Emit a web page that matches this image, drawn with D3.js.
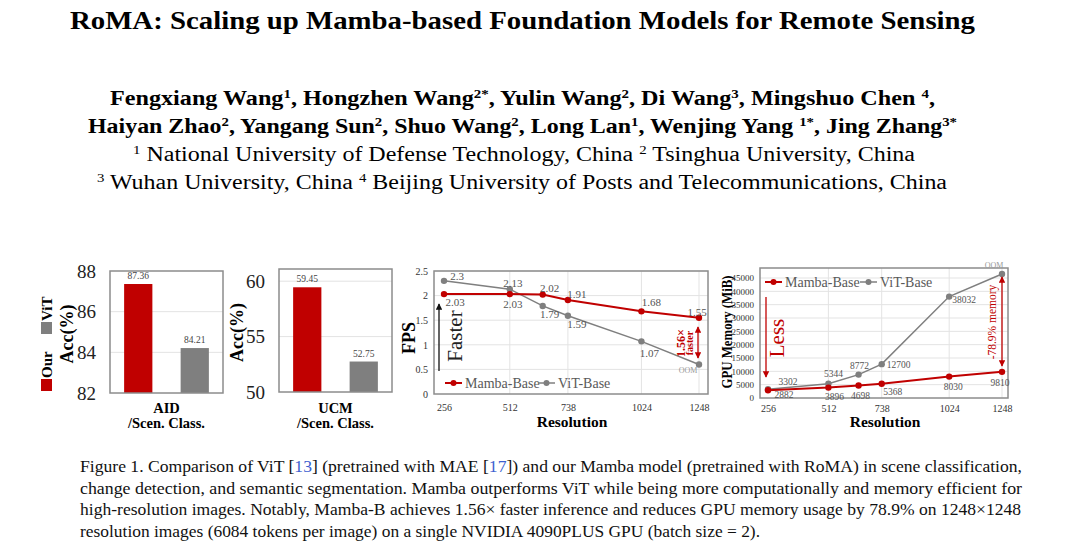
<!DOCTYPE html>
<html>
<head>
<meta charset="utf-8">
<script src="https://cdn.jsdelivr.net/npm/d3@7"></script>
<style>
  body { margin: 0; background: #fff; }
  svg text { font-family: "Liberation Serif", "Times New Roman", Times, serif; }
</style>
</head>
<body>
<div id="fig"></div>
<script>
// values
var accModels = ["Our", "ViT"];
var aidAcc = [87.36, 84.21];
var ucmAcc = [59.45, 52.75];

var resolutions = [256, 512, 640, 738, 1024, 1248];
var resTicks = [256, 512, 738, 1024, 1248];
var mambaFps = [2.03, 2.03, 2.02, 1.91, 1.68, 1.55];
var vitFps = [2.3, 2.13, 1.79, 1.59, 1.07, 0.6];        // last one is OOM
var vitFpsText = ["2.3", "2.13", "1.79", "1.59", "1.07", "OOM"];
var mambaMem = [2882, 3896, 4698, 5368, 8030, 9810];
var vitMem = [3302, 5344, 8772, 12700, 38032, 46500];   // last one is OOM
var vitMemText = ["3302", "5344", "8772", "12700", "38032", "OOM"];

var fpsTicks = [0, 0.5, 1, 1.5, 2, 2.5];
var memTicks = d3.range(0, 45001, 5000);

var RED = "#c00000", GRAY = "#7f7f7f", GRID = "#e3e3e3", FRAME = "#8c8c8c";

var svg = d3.select("#fig").append("svg")
  .attr("width", 1080)
  .attr("height", 551)
  .attr("font-family", "Liberation Serif, serif");

// ---------- header ----------
function richLine(parts, x0, x1, y, size, weight) {
  var t = svg.append("text")
    .attr("x", x0).attr("y", y)
    .attr("font-size", size)
    .attr("font-weight", weight)
    .attr("textLength", x1 - x0)
    .attr("lengthAdjust", "spacingAndGlyphs");
  parts.forEach(function(p) {
    var s = t.append("tspan").text(p[0]);
    if (p[1]) s.attr("font-size", size * 0.62).attr("baseline-shift", "super");
  });
  return t;
}

richLine([["RoMA: Scaling up Mamba-based Foundation Models for Remote Sensing", 0]], 70, 975, 29, 26, "bold");
richLine([["Fengxiang Wang", 0], ["1", 1], [", Hongzhen Wang", 0], ["2*", 1], [", Yulin Wang", 0], ["2", 1],
  [", Di Wang", 0], ["3", 1], [", Mingshuo Chen ", 0], ["4", 1], [",", 0]], 110, 935, 105, 20, "bold");
richLine([["Haiyan Zhao", 0], ["2", 1], [", Yangang Sun", 0], ["2", 1], [", Shuo Wang", 0], ["2", 1],
  [", Long Lan", 0], ["1", 1], [", Wenjing Yang ", 0], ["1*", 1], [", Jing Zhang", 0], ["3*", 1]], 88, 957, 133, 20, "bold");
richLine([["1", 1], [" National University of Defense Technology, China ", 0], ["2", 1],
  [" Tsinghua University, China", 0]], 133, 915, 161, 20, "normal");
richLine([["3", 1], [" Wuhan University, China ", 0], ["4", 1],
  [" Beijing University of Posts and Telecommunications, China", 0]], 97, 947, 189, 20, "normal");

// ---------- caption ----------
var captionLines = [
  [["Figure 1.  Comparison of ViT [", 0], ["13", 2], ["] (pretrained with MAE [", 0], ["17", 2],
   ["]) and our Mamba model (pretrained with RoMA) in scene classification,", 0]],
  [["change detection, and semantic segmentation.  Mamba outperforms ViT while being more computationally and memory efficient for", 0]],
  [["high-resolution images. Notably, Mamba-B achieves 1.56\u00d7 faster inference and reduces GPU memory usage by 78.9% on 1248\u00d71248", 0]],
  [["resolution images (6084 tokens per image) on a single NVIDIA 4090PLUS GPU (batch size = 2).", 0]]
];
var captionEnds = [1022, 1022, 1021, 760];
captionLines.forEach(function(parts, i) {
  var t = svg.append("text")
    .attr("x", 80).attr("y", 472 + i * 21.6)
    .attr("font-size", 16.5)
    .attr("fill", "#111")
    .attr("textLength", captionEnds[i] - 80)
    .attr("lengthAdjust", "spacingAndGlyphs");
  parts.forEach(function(p) {
    t.append("tspan").attr("fill", p[1] === 2 ? "#3d5fd0" : null).text(p[0]);
  });
});

// ---------- bar panels ----------
function barPanel(opt) {
  var x = d3.scaleBand().domain(accModels).range([opt.left, opt.right]).paddingInner(0.5).paddingOuter(0.25);
  var y = d3.scaleLinear().domain(opt.domain).range([opt.bottom, opt.top]);
  var g = svg.append("g");

  g.selectAll("line.grid").data(opt.grid).enter().append("line")
    .attr("x1", opt.left).attr("x2", opt.right)
    .attr("y1", d => y(d)).attr("y2", d => y(d))
    .attr("stroke", GRID).attr("stroke-width", 1);

  g.selectAll("rect.bar").data(opt.values).enter().append("rect")
    .attr("x", (d, i) => x(accModels[i]))
    .attr("y", d => y(d))
    .attr("width", x.bandwidth())
    .attr("height", d => opt.bottom - y(d))
    .attr("fill", (d, i) => i === 0 ? RED : GRAY);

  g.selectAll("text.val").data(opt.values).enter().append("text")
    .attr("x", (d, i) => x(accModels[i]) + x.bandwidth() / 2)
    .attr("y", d => y(d) - 5)
    .attr("text-anchor", "middle")
    .attr("font-size", 9.5)
    .attr("fill", "#444")
    .text(d => d.toFixed(2));

  g.append("rect")
    .attr("x", opt.left).attr("y", opt.top)
    .attr("width", opt.right - opt.left).attr("height", opt.bottom - opt.top)
    .attr("fill", "none").attr("stroke", FRAME).attr("stroke-width", 1.5);

  var yAxis = g.append("g")
    .attr("transform", `translate(${opt.left - 14},0)`)
    .call(d3.axisLeft(y).tickValues(opt.ticks).tickSize(0).tickPadding(0).tickFormat(d3.format("d")));
  yAxis.select(".domain").remove();
  yAxis.selectAll("text")
    .attr("font-family", "Liberation Serif")
    .attr("font-size", 19)
    .attr("fill", "#222");

  g.append("text")
    .attr("transform", `translate(${opt.labelX},${(opt.top + opt.bottom) / 2 + 2}) rotate(-90)`)
    .attr("text-anchor", "middle")
    .attr("font-size", 18).attr("font-weight", "bold")
    .text("Acc(%)");

  var cx = (opt.left + opt.right) / 2;
  g.append("text").attr("x", cx).attr("y", 413)
    .attr("text-anchor", "middle").attr("font-size", 14.5).attr("font-weight", "bold").text(opt.name);
  g.append("text").attr("x", cx).attr("y", 428)
    .attr("text-anchor", "middle").attr("font-size", 14.5).attr("font-weight", "bold").text("/Scen. Class.");
}

barPanel({ left: 110, right: 223, top: 271, bottom: 393, domain: [82, 88], ticks: [82, 84, 86, 88],
  grid: [84, 86], values: aidAcc, labelX: 73, name: "AID" });
barPanel({ left: 279, right: 392, top: 269, bottom: 392, domain: [50, 61.1], ticks: [50, 55, 60],
  grid: [55, 60], values: ucmAcc, labelX: 243, name: "UCM" });

// legend of the bar panels (rotated)
var leg = svg.append("g").attr("transform", "translate(53,391) rotate(-90)");
[["Our", RED], ["ViT", GRAY]].forEach(function(d, i) {
  var off = i * 57;
  leg.append("rect").attr("x", off).attr("y", -12).attr("width", 12).attr("height", 11).attr("fill", d[1]);
  leg.append("text").attr("x", off + 13).attr("y", -1)
    .attr("font-size", 15).attr("font-weight", "bold").text(d[0]);
});

// ---------- line panels ----------
function linePanel(opt) {
  var x = d3.scaleLinear().domain([256, 1248]).range([opt.x0, opt.x1]);
  var y = d3.scaleLinear().domain(opt.domain).range([opt.bottom, opt.top]);
  var g = svg.append("g");

  g.selectAll("line.hg").data(opt.yTicks.slice(1)).enter().append("line")
    .attr("x1", opt.left).attr("x2", opt.right)
    .attr("y1", d => y(d)).attr("y2", d => y(d))
    .attr("stroke", GRID);
  g.selectAll("line.vg").data(resTicks.slice(1)).enter().append("line")
    .attr("x1", d => x(d)).attr("x2", d => x(d))
    .attr("y1", opt.top).attr("y2", opt.bottom)
    .attr("stroke", GRID);

  g.append("rect")
    .attr("x", opt.left).attr("y", opt.top)
    .attr("width", opt.right - opt.left).attr("height", opt.bottom - opt.top)
    .attr("fill", "none").attr("stroke", FRAME).attr("stroke-width", 1.5);

  var yAxis = g.append("g")
    .attr("transform", `translate(${opt.left - 6},0)`)
    .call(d3.axisLeft(y).tickValues(opt.yTicks).tickSize(0).tickPadding(0).tickFormat(d3.format("")));
  yAxis.select(".domain").remove();
  yAxis.selectAll("text").attr("font-family", "Liberation Serif").attr("font-size", opt.tickSize).attr("fill", "#333");

  var xAxis = g.append("g")
    .attr("transform", `translate(0,${opt.xTickY})`)
    .call(d3.axisBottom(x).tickValues(resTicks).tickSize(0).tickPadding(0).tickFormat(d3.format("")));
  xAxis.select(".domain").remove();
  xAxis.selectAll("text").attr("font-family", "Liberation Serif").attr("font-size", 10)
    .attr("dy", null).attr("dominant-baseline", "central").attr("fill", "#333");

  g.append("text").attr("x", opt.xLabelX).attr("y", 427)
    .attr("text-anchor", "middle").attr("font-size", 15.5).attr("font-weight", "bold").text("Resolution");

  var series = [
    { vals: opt.vit, text: opt.vitText, color: GRAY, w: 1.5, off: opt.vitOff },
    { vals: opt.mamba, text: opt.mamba.map(String), color: RED, w: 2, off: opt.mambaOff }
  ];
  var line = d3.line().x((d, i) => x(resolutions[i])).y(d => y(d));
  series.forEach(function(s) {
    g.append("path").datum(s.vals).attr("d", line)
      .attr("fill", "none").attr("stroke", s.color).attr("stroke-width", s.w);
    g.selectAll(null).data(s.vals).enter().append("circle")
      .attr("cx", (d, i) => x(resolutions[i])).attr("cy", d => y(d)).attr("r", 3.2)
      .attr("fill", s.color);
    g.selectAll(null).data(s.vals).enter().append("text")
      .attr("x", (d, i) => x(resolutions[i]) + s.off[i][0])
      .attr("y", (d, i) => y(d) + s.off[i][1])
      .attr("text-anchor", "middle")
      .attr("dominant-baseline", "central")
      .attr("font-size", (d, i) => s.text[i] === "OOM" ? 8 : opt.labelSize)
      .attr("fill", (d, i) => s.text[i] === "OOM" ? "#999" : "#555")
      .text((d, i) => s.text[i]);
  });

  // legend
  [["Mamba-Base", RED, 2], ["ViT-Base", GRAY, 1.5]].forEach(function(d, i) {
    var lx = opt.legX[i], ly = opt.legY;
    g.append("line").attr("x1", lx).attr("x2", lx + 17).attr("y1", ly).attr("y2", ly)
      .attr("stroke", d[1]).attr("stroke-width", d[2]);
    g.append("circle").attr("cx", lx + 8.5).attr("cy", ly).attr("r", 3).attr("fill", d[1]);
    g.append("text").attr("x", lx + 20).attr("y", ly).attr("dominant-baseline", "central")
      .attr("font-size", 14).attr("fill", "#595959").text(d[0]);
  });

  return { g: g, x: x, y: y };
}

var defs = svg.append("defs");
[["arrBlack", "#111"], ["arrRed", RED]].forEach(function(m) {
  defs.append("marker").attr("id", m[0]).attr("viewBox", "0 0 10 10")
    .attr("refX", 9).attr("refY", 5).attr("markerWidth", 5).attr("markerHeight", 5)
    .attr("orient", "auto-start-reverse")
    .append("path").attr("d", "M0,0 L10,5 L0,10 z").attr("fill", m[1]);
});

var fps = linePanel({
  left: 434, right: 708, top: 271, bottom: 394, x0: 444, x1: 699, xTickY: 407,
  domain: [0, 2.5], yTicks: fpsTicks, tickSize: 10, labelSize: 11,
  mamba: mambaFps, vit: vitFps, vitText: vitFpsText,
  mambaOff: [[11, 8], [3, 10], [7, -7], [9, -6], [10, -9], [-2, -6]],
  vitOff: [[13, -5], [3, -6], [7, 8], [9, 8], [8, 12], [-11, 6]],
  legX: [445, 538], legY: 383, xLabelX: 572
});
svg.append("text")
  .attr("transform", "translate(415,338) rotate(-90)")
  .attr("text-anchor", "middle").attr("font-size", 18).attr("font-weight", "bold").text("FPS");
svg.append("line").attr("x1", 439).attr("x2", 439).attr("y1", 371).attr("y2", 304)
  .attr("stroke", "#111").attr("stroke-width", 1.3).attr("marker-end", "url(#arrBlack)");
svg.append("text")
  .attr("transform", "translate(462,336) rotate(-90)")
  .attr("text-anchor", "middle").attr("font-size", 21).attr("fill", "#222").text("Faster");
svg.append("line").attr("x1", 698).attr("x2", 698).attr("y1", 327).attr("y2", 358)
  .attr("stroke", RED).attr("stroke-width", 1.3)
  .attr("marker-start", "url(#arrRed)").attr("marker-end", "url(#arrRed)");
svg.append("text")
  .attr("transform", "translate(685,343) rotate(-90)")
  .attr("text-anchor", "middle").attr("font-size", 12).attr("font-weight", "bold").attr("fill", RED).text("1.56\u00d7");
svg.append("text")
  .attr("transform", "translate(693,343) rotate(-90)")
  .attr("text-anchor", "middle").attr("font-size", 10).attr("font-weight", "bold").attr("fill", RED).text("faster");

var mem = linePanel({
  left: 760, right: 1008, top: 268, bottom: 398, x0: 768, x1: 1002, xTickY: 408,
  domain: [0, 48750], yTicks: memTicks, tickSize: 9, labelSize: 9.5,
  mamba: mambaMem, vit: vitMem, vitText: vitMemText,
  mambaOff: [[16, 5], [6, 9], [2, 11], [11, 8], [4, 10], [-2, 11]],
  vitOff: [[20, -7], [5, -10], [1, -9], [17, 1], [15, 3], [-8, -9]],
  legX: [765, 860], legY: 282, xLabelX: 885
});
svg.append("text")
  .attr("transform", "translate(732,332) rotate(-90)")
  .attr("text-anchor", "middle").attr("font-size", 15).attr("font-weight", "bold")
  .attr("textLength", 113).attr("lengthAdjust", "spacingAndGlyphs").text("GPU Memory (MiB)");
svg.append("line").attr("x1", 766).attr("x2", 766).attr("y1", 297).attr("y2", 377)
  .attr("stroke", RED).attr("stroke-width", 1.3).attr("marker-end", "url(#arrRed)");
svg.append("text")
  .attr("transform", "translate(784,338) rotate(-90)")
  .attr("text-anchor", "middle").attr("font-size", 21).attr("fill", RED).text("Less");
svg.append("line").attr("x1", 1002).attr("x2", 1002).attr("y1", 277).attr("y2", 366)
  .attr("stroke", RED).attr("stroke-width", 1.3)
  .attr("marker-start", "url(#arrRed)").attr("marker-end", "url(#arrRed)");
svg.append("text")
  .attr("transform", "translate(996,322) rotate(-90)")
  .attr("text-anchor", "middle").attr("font-size", 11.5).attr("fill", RED).text("-78.9% memory");
</script>
</body>
</html>
